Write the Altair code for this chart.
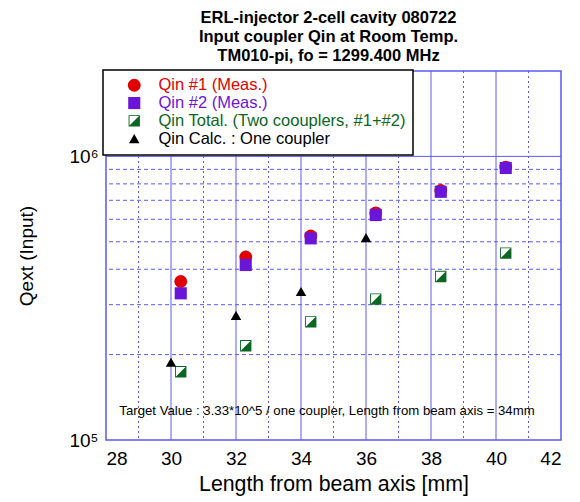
import altair as alt
import pandas as pd

# ---- data ----
length_meas = [30.3, 32.3, 34.3, 36.3, 38.3, 40.3]
qin1 = [3.62e5, 4.42e5, 5.24e5, 6.32e5, 7.58e5, 9.17e5]
qin2 = [3.29e5, 4.14e5, 5.14e5, 6.21e5, 7.50e5, 9.10e5]
qin_total = [1.74e5, 2.15e5, 2.61e5, 3.14e5, 3.77e5, 4.56e5]
length_calc = [30, 32, 34, 36]
qin_calc = [1.88e5, 2.75e5, 3.34e5, 5.17e5]

series_names = [
    "Qin #1 (Meas.)",
    "Qin #2 (Meas.)",
    "Qin Total. (Two coouplers, #1+#2)",
    "Qin Calc. : One coupler",
]
series_colors = ["#e00000", "#6a16d8", "#0b6623", "#000000"]
half_square = ("M-1,-1L1,-1L1,1L-1,1Z"
               "M-0.84,-0.84L-0.84,0.84L0.84,0.84L0.84,-0.84Z"
               "M0.84,-0.84L0.84,0.84L-0.84,0.84Z")
series_shapes = ["circle", "square", half_square, "triangle-up"]
series_sizes = [165, 110, 215, 190]

x_major = [28, 30, 32, 34, 36, 38, 40, 42]
x_major_grid = [30, 32, 34, 36, 38, 40]
x_minor = [29, 31, 33, 35, 37, 39, 41]
y_major = [1e5, 1e6]
y_major_grid = [1e6]
y_minor = [2e5, 3e5, 4e5, 5e5, 6e5, 7e5, 8e5, 9e5]

note_text = ["Target Value : 3.33*10^5 / one coupler, Length from beam axis = 34mm"]
note_x = [34.8]
note_y = [1.27e5]

# ---- build table ----
rows = []
for xv, yv in zip(length_meas, qin1):
    rows.append({"L": xv, "Q": yv, "s": series_names[0]})
for xv, yv in zip(length_meas, qin2):
    rows.append({"L": xv, "Q": yv, "s": series_names[1]})
for xv, yv in zip(length_meas, qin_total):
    rows.append({"L": xv, "Q": yv, "s": series_names[2]})
for xv, yv in zip(length_calc, qin_calc):
    rows.append({"L": xv, "Q": yv, "s": series_names[3]})
df = pd.DataFrame(rows)

grid_blue = "#5a5af0"
xscale = alt.Scale(domain=[28, 42], nice=False, zero=False)
yscale = alt.Scale(type="log", domain=[1e5, 2e6], nice=False)

label_color_expr = (
    "datum.value == '%s' ? '%s' : datum.value == '%s' ? '%s' : "
    "datum.value == '%s' ? '%s' : '%s'"
    % (series_names[0], series_colors[0], series_names[1], series_colors[1],
       series_names[2], series_colors[2], series_colors[3])
)

vminor = alt.Chart(pd.DataFrame({"x": x_minor})).mark_rule(
    color=grid_blue, strokeWidth=1, strokeDash=[2, 3]
).encode(x=alt.X("x:Q", scale=xscale))

hminor = alt.Chart(pd.DataFrame({"y": y_minor})).mark_rule(
    color=grid_blue, strokeWidth=1, strokeDash=[4, 3]
).encode(y=alt.Y("y:Q", scale=yscale))

vmajor = alt.Chart(pd.DataFrame({"x": x_major_grid})).mark_rule(
    color=grid_blue, strokeWidth=1
).encode(x=alt.X("x:Q", scale=xscale))

hmajor = alt.Chart(pd.DataFrame({"y": y_major_grid})).mark_rule(
    color=grid_blue, strokeWidth=1
).encode(y=alt.Y("y:Q", scale=yscale))

points = alt.Chart(df).mark_point(filled=True, opacity=1, strokeWidth=0).encode(
    x=alt.X("L:Q", scale=xscale,
            axis=alt.Axis(values=x_major, grid=False, title="Length from beam axis [mm]")),
    y=alt.Y("Q:Q", scale=yscale,
            axis=alt.Axis(values=y_major, grid=False, title="Qext (Input)",
                          labelExpr="datum.value == 100000 ? '10\u2075' : (datum.value == 1000000 ? '10\u2076' : '')")),
    color=alt.Color("s:N", scale=alt.Scale(domain=series_names, range=series_colors),
                    sort=series_names,
                    legend=alt.Legend(title=None, orient="none", legendX=-3, legendY=-1,
                                      labelColor=alt.ExprRef(label_color_expr))),
    shape=alt.Shape("s:N", scale=alt.Scale(domain=series_names, range=series_shapes),
                    sort=series_names),
    size=alt.Size("s:N", scale=alt.Scale(domain=series_names, range=series_sizes),
                  sort=series_names),
    order=alt.Order("ord:Q"),
).transform_calculate(
    ord="indexof(%s, datum.s)" % str(series_names)
)

note = alt.Chart(pd.DataFrame({"x": note_x, "y": note_y, "t": note_text})).mark_text(
    fontSize=13.2, font="Liberation Sans", color="black"
).encode(x=alt.X("x:Q", scale=xscale), y=alt.Y("y:Q", scale=yscale), text="t:N")

chart = alt.layer(vminor, hminor, vmajor, hmajor, points, note).properties(
    width=455,
    height=369,
    background="white",
    autosize=alt.AutoSizeParams(type="none"),
    padding={"left": 106, "top": 71, "right": 19, "bottom": 62},
    title=alt.TitleParams(
        text=["ERL-injector 2-cell cavity 080722",
              "Input coupler Qin at Room Temp.",
              "TM010-pi, fo = 1299.400 MHz"],
        fontSize=16.5, fontWeight="bold", font="Liberation Sans", color="black",
        anchor="middle", frame="group", lineHeight=19, offset=5, dx=-5,
    ),
).configure_view(
    stroke=grid_blue, strokeWidth=1.5, fill="white"
).configure_axis(
    domain=False, ticks=False,
    labelFont="Liberation Sans", titleFont="Liberation Sans",
    labelColor="black", titleColor="black", titleFontWeight="normal",
    labelFontSize=19, titleFontSize=19,
).configure_axisX(
    labelPadding=9, titlePadding=5, titleFontSize=21.3,
).configure_axisY(
    labelPadding=8, titlePadding=32,
).configure_legend(
    fillColor="white", strokeColor="black", strokeWidth=1.5, padding=7,
    labelFont="Liberation Sans", labelFontSize=16.5, rowPadding=0.8,
    symbolOffset=16, labelOffset=16, labelLimit=500,
)

chart.save("out.html", embed_options={"renderer": "svg", "actions": False})
